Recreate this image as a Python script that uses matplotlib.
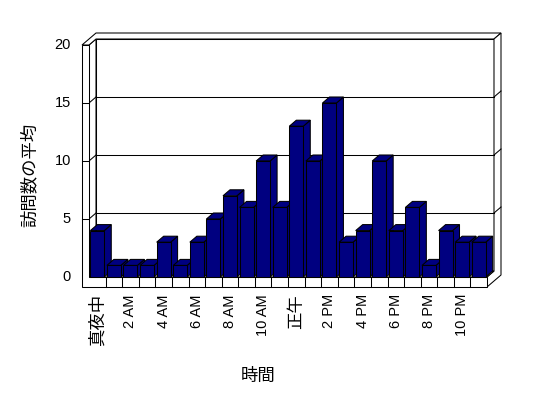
import matplotlib
matplotlib.use("Agg")
import matplotlib.pyplot as plt
from matplotlib.patches import Polygon

# average visits per hour of day
hours = list(range(24))
visits = [4, 1, 1, 1, 3, 1, 3, 5, 7, 6, 10, 6, 13, 10, 15, 3, 4, 10, 4, 6, 1, 4, 3, 3]
hour_labels = ["真夜中", "2 AM", "4 AM", "6 AM", "8 AM", "10 AM",
               "正午", "2 PM", "4 PM", "6 PM", "8 PM", "10 PM"]
y_ticks = [0, 5, 10, 15, 20]
x_title = "時間"
y_title = "訪問数の平均"

NAVY = "#000080"
LW = 0.75
LATIN = ["Liberation Sans", "DejaVu Sans"]
CJK = ["Noto Sans CJK JP", "DejaVu Sans"]

# pixel layout of the front plane (cabinet style 3-D like old Excel)
X0, X1 = 89, 487        # px of category -0.5 and 23.5
Y0, S = 277, 11.6       # px of value 0, px per unit
P = (X1 - X0) / len(hours)
W, H = 548, 398


def px2x(px):
    return (px - X0) / P - 0.5


def py2y(py):
    return (Y0 - py) / S


dx, dy = 7 / P, 6 / S          # one depth step
ft = 10 / S                    # floor thickness
lw_wall = 7 / P                # left wall thickness
xl, xr = -0.5, len(hours) - 0.5
top = y_ticks[-1]

fig = plt.figure(figsize=(W / 100, H / 100), dpi=100)
ax = fig.add_axes([0, 0, 1, 1])
ax.set_xlim(px2x(0), px2x(W))
ax.set_ylim(py2y(H), py2y(0))
ax.axis("off")


def poly(pts, z, fc="white"):
    ax.add_patch(Polygon(pts, closed=True, facecolor=fc, edgecolor="black",
                         linewidth=LW, zorder=z, joinstyle="miter"))


# back wall inner face
poly([(xl + dx, dy), (xr + dx, dy), (xr + dx, top + dy), (xl + dx, top + dy)], 1)
# left wall inner face
poly([(xl, 0), (xl + dx, dy), (xl + dx, top + dy), (xl, top)], 1)
# tops of walls
poly([(xl - lw_wall, top), (xl, top), (xl + dx, top + dy), (xr + dx, top + dy),
      (xr + 2 * dx, top + 2 * dy), (xl - lw_wall + 2 * dx, top + 2 * dy)], 1)
# right end of back wall and floor
poly([(xr, -ft), (xr, 0), (xr + dx, dy), (xr + dx, top + dy),
      (xr + 2 * dx, top + 2 * dy), (xr + 2 * dx, -ft + 2 * dy)], 1)
# floor top
poly([(xl, 0), (xr, 0), (xr + dx, dy), (xl + dx, dy)], 1)
# front faces of floor and left wall
poly([(xl - lw_wall, -ft), (xr, -ft), (xr, 0), (xl, 0), (xl, top),
      (xl - lw_wall, top)], 2)

# gridlines around the walls
for v in y_ticks[1:-1]:
    ax.plot([xl + dx, xr + dx], [v + dy, v + dy], color="black", lw=LW, zorder=1.5)
    ax.plot([xl, xl + dx], [v, v + dy], color="black", lw=LW, zorder=1.5)
    ax.plot([xl - lw_wall, xl], [v, v], color="black", lw=LW, zorder=2.5)
    ax.plot([xr + dx, xr + 2 * dx], [v + dy, v + 2 * dy], color="black", lw=LW, zorder=1.5)

# category dividers on the floor front
for k in range(1, len(hours)):
    ax.plot([k - 0.5, k - 0.5], [-ft, 0], color="black", lw=LW, zorder=2.5)

# bars
bw = 0.84
bars = ax.bar(hours, visits, width=bw, color=NAVY, edgecolor="black", linewidth=LW)
for i, (h, v) in enumerate(zip(hours, visits)):
    z = 10 + i
    l, r = h - bw / 2, h + bw / 2
    poly([(r, 0), (r + dx, dy), (r + dx, v + dy), (r, v)], z, NAVY)
    poly([(l, v), (r, v), (r + dx, v + dy), (l + dx, v + dy)], z, NAVY)
    bars[i].set_zorder(z + 0.5)

# value axis labels
for v in y_ticks:
    ax.text(px2x(71), v, str(v), ha="right", va="center", fontsize=10.5, family=LATIN)

# category labels, every other hour
for h, lab in zip(hours[::2], hour_labels):
    cjk = any(ord(c) > 0x2000 for c in lab)
    ax.text(h, py2y(294), lab, rotation=90, ha="center", va="top",
            fontsize=12.5 if cjk else 10.5, family=CJK if cjk else LATIN)

ax.text(px2x(258), py2y(376), x_title, ha="center", va="center", fontsize=12.5, family=CJK)
ax.text(px2x(30), py2y(175), y_title, ha="center", va="center", rotation=90,
        fontsize=12.5, family=CJK)

fig.savefig("out.png", dpi=100)
